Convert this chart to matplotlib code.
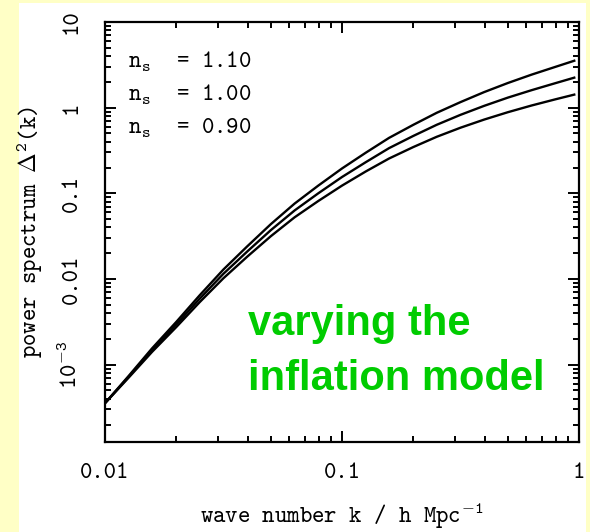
import matplotlib
matplotlib.use('Agg')
import matplotlib.pyplot as plt
from matplotlib.patches import Rectangle
from matplotlib.ticker import LogLocator, NullFormatter

# Schreibmaschinen-Font (cmtt10) fuer alle Beschriftungen
plt.rcParams['mathtext.fontset'] = 'custom'
plt.rcParams['mathtext.rm'] = 'cmtt10'
plt.rcParams['mathtext.it'] = 'cmtt10'
plt.rcParams['mathtext.tt'] = 'cmtt10'
plt.rcParams['mathtext.bf'] = 'cmtt10'
plt.rcParams['mathtext.sf'] = 'cmtt10'

# wave number k / h Mpc^-1
k = [0.01, 0.0126, 0.0158, 0.0200, 0.0251, 0.0316, 0.0398, 0.0501, 0.0631,
     0.0794, 0.100, 0.126, 0.158, 0.200, 0.251, 0.316, 0.398, 0.501, 0.631,
     0.794, 0.955]

# power spectrum Delta^2(k) for the three spectral indices
delta2_110 = [3.55e-4, 7.41e-4, 1.55e-3, 3.16e-3, 6.46e-3, 0.0129, 0.0240,
              0.0437, 0.0759, 0.123, 0.195, 0.298, 0.444, 0.631, 0.871,
              1.16, 1.52, 1.94, 2.43, 2.99, 3.53]
delta2_100 = [3.55e-4, 7.24e-4, 1.48e-3, 2.95e-3, 5.89e-3, 0.0115, 0.0209,
              0.0372, 0.0631, 0.100, 0.155, 0.231, 0.337, 0.468, 0.631,
              0.824, 1.05, 1.31, 1.60, 1.93, 2.24]
delta2_090 = [3.55e-4, 7.08e-4, 1.41e-3, 2.75e-3, 5.37e-3, 0.0102, 0.0182,
              0.0316, 0.0525, 0.0813, 0.123, 0.180, 0.255, 0.347, 0.457,
              0.583, 0.726, 0.885, 1.06, 1.25, 1.42]

ns_labels = ['1.10', '1.00', '0.90']

x_ticks = [0.01, 0.1, 1]
x_ticklabels = ['0.01', '0.1', '1']
y_ticks = [1e-3, 1e-2, 0.1, 1, 10]
y_ticklabels = ['10$^{-3}$', '0.01', '0.1', '1', '10']

TT = dict(family='cmtt10', fontsize=17)

fig = plt.figure(figsize=(5.9, 5.32), dpi=100)
fig.patch.set_facecolor('#ffffc6')
fig.patches.append(Rectangle((19 / 590, 0), 567 / 590, 529 / 532,
                             transform=fig.transFigure, facecolor='white',
                             edgecolor='none', zorder=-10))

ax = fig.add_axes([105 / 590, 1 - 442 / 532, 474 / 590, 420 / 532])
ax.set_facecolor('white')

for vals in (delta2_110, delta2_100, delta2_090):
    ax.plot(k, vals, color='black', lw=1.7)

ax.set_xscale('log')
ax.set_yscale('log')
ax.set_xlim(0.01, 1)
ax.set_ylim(1.25e-4, 10)

ax.set_xticks(x_ticks)
ax.set_xticklabels(x_ticklabels, **TT)
ax.set_yticks(y_ticks)
ax.set_yticklabels(y_ticklabels, rotation=90, va='center', **TT)
for axis in (ax.xaxis, ax.yaxis):
    axis.set_minor_locator(LogLocator(base=10, subs=range(2, 10), numticks=30))
    axis.set_minor_formatter(NullFormatter())

ax.tick_params(which='both', direction='in', top=True, right=True,
               width=1.4, color='black')
ax.tick_params(which='major', length=8)
ax.tick_params(which='minor', length=4.5)
ax.tick_params(axis='x', which='major', pad=15)
ax.tick_params(axis='y', which='major', pad=16)
for sp in ax.spines.values():
    sp.set_linewidth(1.6)

ax.set_xlabel('wave number k / h Mpc$^{-1}$', labelpad=12, **TT)
ax.set_ylabel(r'power spectrum $\Delta^2$(k)', labelpad=10, **TT)

# Beschriftung der drei Kurven
for i, lab in enumerate(ns_labels):
    ax.text(0.048, 0.905 - i * 0.079, 'n$_s$  = ' + lab, transform=ax.transAxes,
            va='center', ha='left', **TT)

# gruener Text
ax.text(0.302, 0.255, 'varying the',
        transform=ax.transAxes, fontsize=30, fontweight='bold',
        family='Liberation Sans', color='#00cc00', va='baseline')
ax.text(0.302, 0.124, 'inflation model',
        transform=ax.transAxes, fontsize=30, fontweight='bold',
        family='Liberation Sans', color='#00cc00', va='baseline')

fig.savefig('out.png', dpi=100, facecolor=fig.get_facecolor())
